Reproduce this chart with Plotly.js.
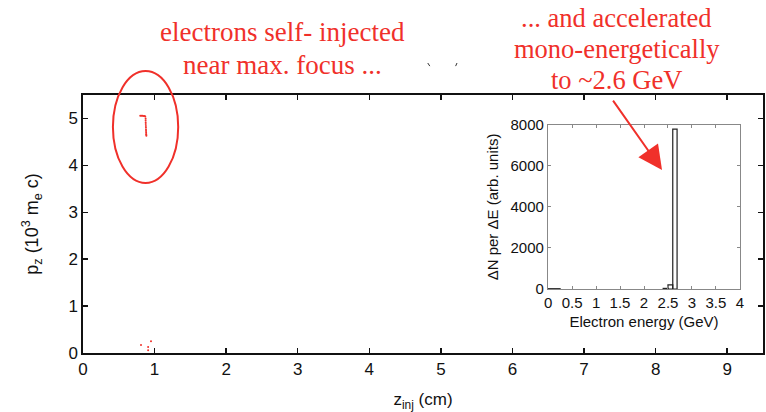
<!DOCTYPE html>
<html>
<head>
<meta charset="utf-8">
<script src="https://cdn.plot.ly/plotly-3.0.1.min.js"></script>
<style>
  html, body { margin: 0; padding: 0; background: #fff; }
  #chart { width: 766px; height: 412px; }
</style>
</head>
<body>
<div id="chart"></div>
<script>
// Self-injected electrons: injection position z_inj (cm) vs longitudinal momentum p_z (10^3 m_e c)
const injZ = [0.80, 0.815, 0.83, 0.845, 0.86, 0.87, 0.875, 0.875, 0.876, 0.877, 0.878, 0.879, 0.88, 0.881, 0.882, 0.883, 0.884, 0.885,
              0.81, 0.95, 0.91, 0.91];
const injPz = [5.06, 5.06, 5.06, 5.05, 5.05, 5.04, 5.00, 4.96, 4.92, 4.88, 4.84, 4.80, 4.76, 4.73, 4.70, 4.67, 4.65, 4.63,
               0.17, 0.25, 0.13, 0.06];

// Energy spectrum (inset): histogram bins, GeV
const binLo  = [0.0, 2.40, 2.50, 2.60];
const binHi  = [0.25, 2.50, 2.60, 2.69];
const counts = [15, 30, 200, 7800];

// Axis ticks
const mainXTicks = [0, 1, 2, 3, 4, 5, 6, 7, 8, 9];
const mainYTicks = [0, 1, 2, 3, 4, 5];
const insetXTicks = [0, 0.5, 1, 1.5, 2, 2.5, 3, 3.5, 4];
const insetXLabels = ['0', '0.5', '1', '1.5', '2', '2.5', '3', '3.5', '4'];
const insetYTicks = [0, 2000, 4000, 6000, 8000];

// Caption lines
const leftCaption = ['electrons self- injected', 'near max. focus ...'];
const rightCaption = ['... and accelerated', 'mono-energetically', 'to ~2.6 GeV'];

const red = '#f0302a';
const sans = 'Liberation Sans, Arial, sans-serif';
const serif = 'Liberation Serif, Times New Roman, serif';

const binCenters = binLo.map((lo, i) => (lo + binHi[i]) / 2);
const binWidths = binLo.map((lo, i) => binHi[i] - lo);

const traces = [
  {
    type: 'scatter', mode: 'markers',
    x: injZ, y: injPz,
    marker: { color: red, size: 2 },
    xaxis: 'x', yaxis: 'y', hoverinfo: 'skip'
  },
  {
    type: 'bar',
    x: binCenters, y: counts, width: binWidths,
    marker: { color: 'rgba(255,255,255,0)', line: { color: '#222', width: 1.2 } },
    xaxis: 'x2', yaxis: 'y2', hoverinfo: 'skip'
  }
];

const mainAxis = {
  showline: true, linecolor: '#111', linewidth: 1.6, mirror: 'ticks',
  ticks: 'inside', ticklen: 5, tickwidth: 1.5, tickcolor: '#111',
  showgrid: false, zeroline: false,
  tickfont: { family: sans, size: 17, color: '#111' }
};

const insetAxis = {
  showline: true, linecolor: '#888', linewidth: 1.2, mirror: 'ticks',
  ticks: 'inside', ticklen: 3, tickwidth: 1, tickcolor: '#888',
  showgrid: false, zeroline: false,
  tickfont: { family: sans, size: 15, color: '#111' }
};

// caption line helper (paper coordinates, one annotation per line)
function captionLine(text, x, y, size) {
  return { xref: 'paper', yref: 'paper', x: x, y: y, xanchor: 'center', yanchor: 'middle',
           showarrow: false, text: text, font: { family: serif, size: size, color: red } };
}
const leftY = [1.244, 1.116];
const rightY = [1.298, 1.178, 1.058];

const annotations = []
  .concat(leftCaption.map((t, i) => captionLine(t, 0.294, leftY[i], 27)))
  .concat(rightCaption.map((t, i) => captionLine(t, 0.785, rightY[i], 26.5)));

annotations.push({
  xref: 'paper', yref: 'paper', x: 0.8515, y: 0.709, text: '',
  showarrow: true, arrowhead: 2, arrowsize: 2.4, arrowwidth: 2, arrowcolor: red,
  ax: -50, ay: -71, standoff: 0
});

const layout = {
  width: 766, height: 412,
  margin: { l: 83, r: 3, t: 95, b: 59 },
  paper_bgcolor: '#fff', plot_bgcolor: 'rgba(0,0,0,0)',
  showlegend: false,
  bargap: 0,
  xaxis: Object.assign({}, mainAxis, {
    range: [0, 9.5], tickvals: mainXTicks,
    title: { text: 'z<sub>inj</sub> (cm)', font: { family: sans, size: 17, color: '#111' }, standoff: 15 }
  }),
  yaxis: Object.assign({}, mainAxis, {
    range: [0, 5.5], tickvals: mainYTicks,
    title: { text: 'p<sub>z</sub> (10<sup>3</sup> m<sub>e</sub> c)', font: { family: sans, size: 18, color: '#111' }, standoff: 25 }
  }),
  xaxis2: Object.assign({}, insetAxis, {
    domain: [0.684, 0.966], anchor: 'y2', range: [0, 4],
    tickvals: insetXTicks, ticktext: insetXLabels,
    title: { text: 'Electron energy (GeV)', font: { family: sans, size: 15, color: '#111' }, standoff: 6 }
  }),
  yaxis2: Object.assign({}, insetAxis, {
    domain: [0.248, 0.884], anchor: 'x2', range: [0, 8000],
    tickvals: insetYTicks,
    title: { text: '\u0394N per \u0394E (arb. units)', font: { family: sans, size: 15, color: '#111' }, standoff: 8 }
  }),
  shapes: [
    // ring around the injected bunch
    { type: 'circle', xref: 'paper', yref: 'paper', x0: 0.044, x1: 0.140, y0: 0.659, y1: 1.093,
      line: { color: red, width: 2 } },
    // two small stray marks between the captions
    { type: 'line', xref: 'paper', yref: 'paper', x0: 0.507, y0: 1.124, x1: 0.510, y1: 1.112,
      line: { color: '#333', width: 1 } },
    { type: 'line', xref: 'paper', yref: 'paper', x0: 0.548, y0: 1.112, x1: 0.550, y1: 1.124,
      line: { color: '#333', width: 1 } }
  ],
  annotations: annotations
};

Plotly.newPlot('chart', traces, layout, { staticPlot: true, displayModeBar: false });
</script>
</body>
</html>
